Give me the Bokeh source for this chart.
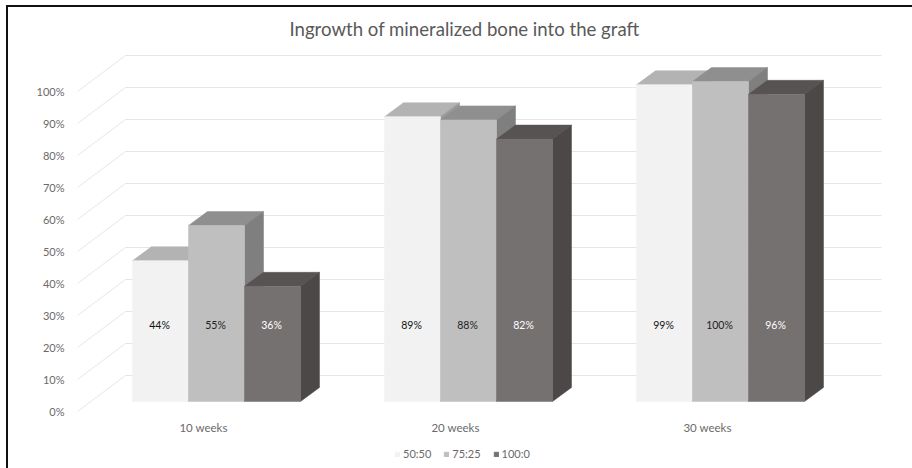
from bokeh.plotting import figure
from bokeh.embed import file_html
from bokeh.resources import INLINE
from bokeh.models import Legend, LegendItem, FixedTicker, ColumnDataSource, Range1d, Title
from bokeh.core.properties import value

categories = ["10 weeks", "20 weeks", "30 weeks"]
series_names = ["50:50", "75:25", "100:0"]
values_50_50 = [44, 89, 99]
values_75_25 = [55, 88, 100]
values_100_0 = [36, 82, 96]
y_ticks = [0, 10, 20, 30, 40, 50, 60, 70, 80, 90, 100]
title_text = "Ingrowth of mineralized bone into the graft"

front_colors = ["#f2f2f2", "#bfbfbf", "#767171"]
top_colors = ["#b3b3b3", "#8f8f8f", "#575352"]
side_colors = ["#999999", "#7f7f7f", "#4c4847"]
label_colors = ["#111111", "#222222", "#ffffff"]

# page-pixel layout
BOX_L, BOX_T = 6, 5        # outer corner of the picture's border
BORDER = 2
CX, CY = BOX_L + BORDER, BOX_T + BORDER
FIG_W, FIG_H = 912 - BOX_L, 468 - BOX_T
FRAME_L, FRAME_R, FRAME_T, FRAME_B = 70, 884, 46, 462
AXIS_PX = 410
PX_PER_CAT = 252.0
PX_PER_PCT = 3.2
X1_PX = 202.0   # page x of category 1 on the front plane
Y0_PX = 410.0   # page y of 0% on the front plane


def dx(px):
    return px / PX_PER_CAT


def dy(px):
    return px / PX_PER_PCT


p = figure(width=FIG_W, height=FIG_H, output_backend="svg", toolbar_location=None,
           x_range=Range1d(1 + dx(FRAME_L - X1_PX), 1 + dx(FRAME_R - X1_PX)),
           y_range=Range1d(dy(Y0_PX - FRAME_B), dy(Y0_PX - FRAME_T)),
           min_border_left=FRAME_L - CX + 1, min_border_right=912 - FRAME_R + 1,
           min_border_top=FRAME_T - CY + 1, min_border_bottom=468 - FRAME_B + 1,
           margin=(BOX_T, 0, 0, BOX_L))
p.outline_line_color = None
p.grid.visible = False
p.background_fill_color = "white"
p.border_fill_color = "white"

# Picture border: only the top and left edges are inside the picture
p.styles = {"border-top": f"{BORDER}px solid #111111", "border-left": f"{BORDER}px solid #111111",
            "box-sizing": "border-box"}

# Title
t = Title(text=title_text, align="left", offset=218, standoff=16, text_font="Lato",
          text_font_size="18.6px", text_font_style="normal", text_color="#595959")
p.title = t

# Axes
p.yaxis.ticker = FixedTicker(ticks=y_ticks)
p.yaxis.major_label_overrides = {v: f"{v}%" for v in y_ticks}
p.yaxis.axis_line_color = None
p.yaxis.major_tick_line_color = None
p.yaxis.minor_tick_line_color = None
p.yaxis.major_tick_out = 0
p.yaxis.major_label_text_font = "Lato"
p.yaxis.major_label_text_font_size = "11px"
p.yaxis.major_label_text_color = "#6a6a6a"
p.yaxis.major_label_standoff = 7

p.xaxis.ticker = FixedTicker(ticks=[1, 2, 3])
p.xaxis.major_label_overrides = {i + 1: c for i, c in enumerate(categories)}
p.xaxis.axis_line_color = None
p.xaxis.major_tick_line_color = None
p.xaxis.minor_tick_line_color = None
p.xaxis.major_label_text_font = "Lato"
p.xaxis.major_label_text_font_size = "11.5px"
p.xaxis.major_label_text_color = "#6a6a6a"
p.xaxis.major_label_standoff = 3
p.xaxis.fixed_location = dy(Y0_PX - AXIS_PX)

# Walls: gridlines on the back plane, diagonals on the left wall
WALL_DX, WALL_DY = dx(48), dy(36)
x_left = 0.5
x_right = 3.5
grid_color = "#e6e6e6"
for v in y_ticks:
    p.line([x_left, x_left + WALL_DX, x_right + WALL_DX],
           [v, v + WALL_DY, v + WALL_DY], line_color=grid_color, line_width=1)

# Bars
BAR_W = dx(56)
PLANE_DX, PLANE_DY = dx(13), dy(10)   # bars stand this far behind the front plane
BAR_DX, BAR_DY = dx(19), dy(14)       # depth of a bar
all_values = [values_50_50, values_75_25, values_100_0]
legend_items = []
for s, vals in enumerate(all_values):
    lefts = [i + 1 + PLANE_DX + (s - 1.5) * BAR_W for i in range(len(vals))]
    xs_front, ys_front, xs_top, ys_top, xs_side, ys_side = [], [], [], [], [], []
    for x0, v in zip(lefts, vals):
        x1 = x0 + BAR_W
        b = PLANE_DY
        h = b + v
        xs_front.append([x0, x1, x1, x0])
        ys_front.append([b, b, h, h])
        xs_top.append([x0, x1, x1 + BAR_DX, x0 + BAR_DX])
        ys_top.append([h, h, h + BAR_DY, h + BAR_DY])
        xs_side.append([x1, x1 + BAR_DX, x1 + BAR_DX, x1])
        ys_side.append([b, b + BAR_DY, h + BAR_DY, h])
    p.patches(xs_top, ys_top, fill_color=top_colors[s], line_color=top_colors[s], line_width=0.5)
    p.patches(xs_side, ys_side, fill_color=side_colors[s], line_color=side_colors[s], line_width=0.5)
    r = p.patches(xs_front, ys_front, fill_color=front_colors[s], line_color=front_colors[s], line_width=0.5)
    legend_items.append(LegendItem(label=series_names[s], renderers=[r]))

# Data labels
label_level = 27
for s, vals in enumerate(all_values):
    xs = [i + 1 + PLANE_DX + (s - 1) * BAR_W - dx(1) for i in range(len(vals))]
    ys = [label_level] * len(vals)
    src = ColumnDataSource(dict(x=xs, y=ys, t=[f"{v}%" for v in vals]))
    p.text("x", "y", text="t", source=src, text_align="center", text_baseline="middle",
           text_font=value("Lato"), text_font_size="10.5px", text_color=label_colors[s])

legend = Legend(items=legend_items, orientation="horizontal", location=(323, 3),
                border_line_color=None, background_fill_alpha=0,
                label_text_font="Lato", label_text_font_size="11px",
                label_text_color="#6a6a6a", glyph_width=6, glyph_height=6,
                spacing=12, label_standoff=3, padding=0, margin=0)
p.add_layout(legend, "center")

open("out.html", "w").write(file_html(p, INLINE))
